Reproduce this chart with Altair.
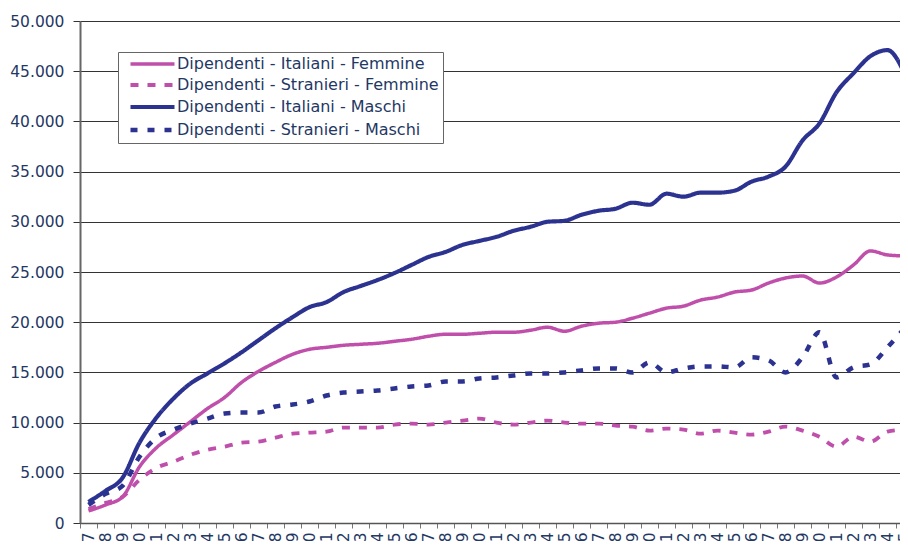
import altair as alt
import pandas as pd

ages = ["17", "18", "19", "20", "21", "22", "23", "24", "25", "26", "27", "28", "29",
        "30", "31", "32", "33", "34", "35", "36", "37", "38", "39", "40", "41", "42",
        "43", "44", "45", "46", "47", "48", "49", "50", "51", "52", "53", "54", "55",
        "56", "57", "58", "59", "60", "61", "62", "63", "64", "65"]

ita_f = [1200, 1800, 2600, 5600, 7500, 8800, 10100, 11400, 12500, 14000,
         15100, 16000, 16800, 17300, 17500, 17700, 17800, 17900, 18100, 18300,
         18600, 18800, 18800, 18900, 19000, 19000, 19200, 19500, 19100, 19600,
         19900, 20000, 20400, 20900, 21400, 21600, 22200, 22500, 23000, 23200,
         23900, 24400, 24600, 23900, 24500, 25700, 27100, 26700, 26600]

str_f = [1400, 2000, 2600, 4300, 5500, 6100, 6800, 7300, 7600, 8000,
         8100, 8500, 8900, 9000, 9100, 9500, 9500, 9500, 9800, 9900,
         9800, 10000, 10200, 10400, 10000, 9800, 10000, 10200, 10000, 9900,
         9900, 9700, 9600, 9200, 9400, 9300, 8900, 9200, 9000, 8800,
         9100, 9600, 9200, 8600, 7600, 8600, 8100, 9100, 9300]

ita_m = [2100, 3200, 4500, 8000, 10500, 12400, 13900, 14900, 15900, 17000,
         18200, 19400, 20500, 21500, 22000, 23000, 23600, 24200, 24900, 25700,
         26500, 27000, 27700, 28100, 28500, 29100, 29500, 30000, 30100, 30700,
         31100, 31300, 31900, 31700, 32800, 32500, 32900, 32900, 33100, 34000,
         34500, 35500, 38100, 39800, 42900, 44800, 46500, 47100, 44800]

str_m = [1800, 2900, 3700, 6600, 8500, 9300, 9900, 10400, 10900, 11000,
         11000, 11600, 11800, 12100, 12700, 13000, 13100, 13200, 13400, 13600,
         13700, 14100, 14100, 14400, 14500, 14700, 14900, 14900, 15000, 15200,
         15400, 15400, 15000, 16000, 15000, 15400, 15600, 15600, 15500, 16500,
         16200, 15000, 16500, 19000, 14500, 15500, 15800, 17500, 19400]

series_names = [
    "Dipendenti - Italiani - Femmine",
    "Dipendenti - Stranieri - Femmine",
    "Dipendenti - Italiani - Maschi",
    "Dipendenti - Stranieri - Maschi",
]
series_values = [ita_f, str_f, ita_m, str_m]
series_colors = ["#BF4FAA", "#BF4FAA", "#2C3290", "#2C3290"]
series_dash = [[1, 0], [8, 9], [1, 0], [7, 10]]
series_width = [3.5, 4.5, 3.5, 2.5]

rows = []
for name, vals in zip(series_names, series_values):
    for a, v in zip(ages, vals):
        rows.append({"eta": a, "valore": v, "serie": name})
df = pd.DataFrame(rows)

text_color = "#1F3864"
font = "DejaVu Sans"

chart = alt.Chart(df).mark_line(interpolate="monotone").encode(
    x=alt.X("eta:O", sort=ages, bandPosition=0.5,
            scale=alt.Scale(type="band", paddingInner=0, paddingOuter=0, range=[0, 833]),
            axis=alt.Axis(title=None, labelAngle=270, labelAlign="right",
                          labelBaseline="middle", labelFontSize=15.5,
                          labelColor=text_color, labelFont=font, labelPadding=4,
                          tickBand="extent", tickSize=5, tickColor="#777",
                          domainColor="#555", domainWidth=1.5, grid=False)),
    y=alt.Y("valore:Q",
            scale=alt.Scale(domain=[0, 50000], nice=False),
            axis=alt.Axis(title=None, values=list(range(0, 50001, 5000)),
                          labelExpr="replace(format(datum.value, ','), ',', '.')",
                          labelFontSize=15.5, labelColor=text_color, labelFont=font,
                          labelPadding=9, tickSize=7, tickColor="#333",
                          domainColor="#666", domainWidth=2,
                          grid=True, gridColor="#333", gridWidth=1)),
    color=alt.Color("serie:N", sort=series_names,
                    scale=alt.Scale(domain=series_names, range=series_colors),
                    legend=alt.Legend(title=None, orient="none", legendX=38, legendY=31,
                                      symbolType="M0.09,0H8.09", symbolSize=121,
                                      labelFontSize=16,
                                      labelFont=font, labelColor=text_color,
                                      labelOffset=39, labelLimit=400,
                                      strokeColor="#666", fillColor="white",
                                      padding=4, rowPadding=5)),
    strokeDash=alt.StrokeDash("serie:N", sort=series_names,
                              scale=alt.Scale(domain=series_names, range=series_dash),
                              legend=None),
    strokeWidth=alt.StrokeWidth("serie:N", sort=series_names,
                                scale=alt.Scale(domain=series_names, range=series_width),
                                legend=None),
).properties(
    width=820,
    height=502,
    autosize=alt.AutoSizeParams(type="none"),
    padding={"left": 72, "top": 13, "right": 0, "bottom": 18},
).configure_view(stroke=None)

chart.save("out.html", embed_options={"renderer": "svg", "actions": False})
